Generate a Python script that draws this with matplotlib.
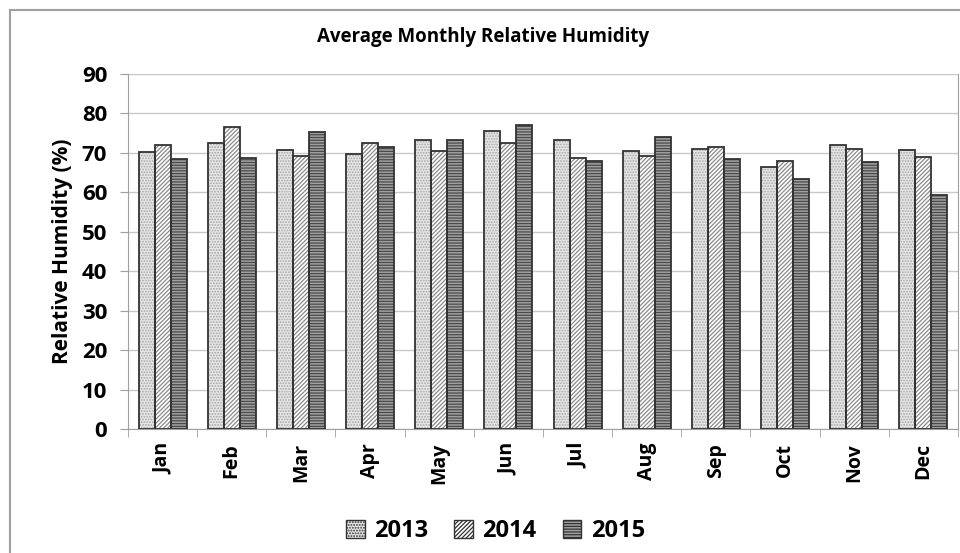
import matplotlib.pyplot as plt
import numpy as np
from matplotlib.lines import Line2D

plt.rcParams['font.family'] = ['Open Sans', 'DejaVu Sans']
plt.rcParams['font.weight'] = 'bold'
plt.rcParams['hatch.linewidth'] = 0.9

months = ['Jan', 'Feb', 'Mar', 'Apr', 'May', 'Jun',
          'Jul', 'Aug', 'Sep', 'Oct', 'Nov', 'Dec']
rh_2013 = [70.2, 72.5, 70.8, 69.7, 73.2, 75.6, 73.2, 70.4, 71.0, 66.5, 72.0, 70.8]
rh_2014 = [72.0, 76.5, 69.3, 72.4, 70.6, 72.4, 68.6, 69.2, 71.6, 68.0, 71.0, 69.0]
rh_2015 = [68.4, 68.8, 75.3, 71.4, 73.2, 77.0, 68.0, 74.0, 68.4, 63.3, 67.7, 59.4]
years = ['2013', '2014', '2015']

fig = plt.figure(figsize=(9.6, 5.53), dpi=100)
ax = fig.add_axes([0.1333, 0.2242, 0.8646, 0.642])

# chart frame: only its left and top edges fall inside the image
frame = dict(transform=fig.transFigure, color='#a0a0a0', linewidth=1.5)
fig.add_artist(Line2D([0.0104, 0.0104], [0, 0.982], **frame))
fig.add_artist(Line2D([0.0104, 1.0], [0.982, 0.982], **frame))

x = np.arange(len(months))
w = 0.231
styles = [
    dict(facecolor='#e6e6e6', hatch='......', hatch_color='#a8a8a8'),
    dict(facecolor='white', hatch='////////', hatch_color='#8a8a8a'),
    dict(facecolor='#a0a0a0', hatch='------', hatch_color='#4a4a4a'),
]
for i, (vals, st) in enumerate(zip([rh_2013, rh_2014, rh_2015], styles)):
    ax.bar(x + (i - 1) * w, vals, width=w, facecolor=st['facecolor'],
           edgecolor=st['hatch_color'], hatch=st['hatch'], linewidth=0,
           label=years[i], zorder=3)
    # dark outline drawn separately so hatch colour stays lighter
    ax.bar(x + (i - 1) * w, vals, width=w, fill=False, edgecolor='#333333',
           linewidth=1.3, zorder=4)

ax.set_ylim(0, 90)
ax.set_xlim(-0.5, 11.5)
ax.set_yticks(np.arange(0, 91, 10))
ax.set_xticks(x)
ax.set_xticklabels(months, rotation=90, fontsize=14, fontweight='bold')
ax.tick_params(axis='y', labelsize=16, length=6, color='#a0a0a0', pad=9)
ax.tick_params(axis='x', length=0, pad=10)
ax.set_xticks(np.arange(-0.5, 12, 1), minor=True)
ax.tick_params(axis='x', which='minor', length=6, color='#a0a0a0')
ax.grid(axis='y', color='#c8c8c8', linewidth=1, zorder=0)
ax.set_axisbelow(True)
ax.spines['top'].set_visible(False)
for s in ['left', 'bottom', 'right']:
    ax.spines[s].set_color('#a0a0a0')

ax.set_ylabel('Relative Humidity (%)', fontsize=15, fontweight='bold', labelpad=6)
fig.text(0.503, 0.933, 'Average Monthly Relative Humidity', ha='center', va='center',
         fontsize=13.5, fontweight='bold')

leg = fig.legend(*ax.get_legend_handles_labels(), loc='center', bbox_to_anchor=(0.516, 0.040),
                 ncol=3, frameon=False, fontsize=17, handlelength=0.8, handleheight=0.8,
                 columnspacing=1.1, handletextpad=0.4)
for h in leg.legend_handles:
    h.set_edgecolor('#333333')
    h.set_linewidth(1.0)

fig.savefig('out.png', dpi=100)
